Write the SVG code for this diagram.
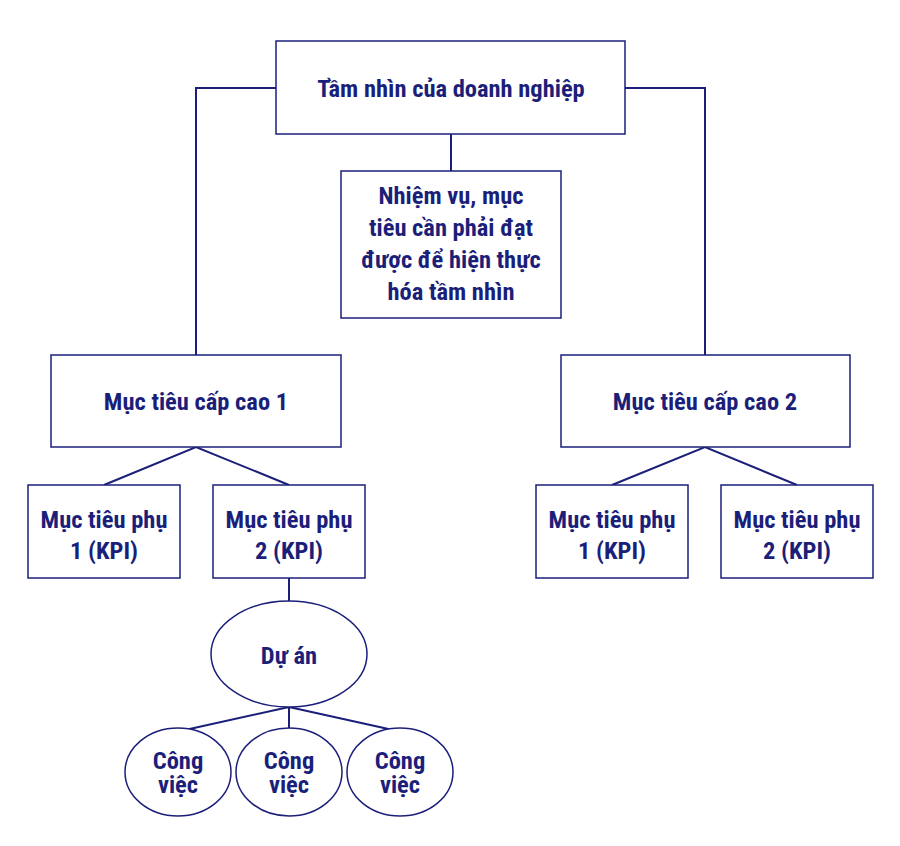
<svg xmlns="http://www.w3.org/2000/svg" width="900" height="846" viewBox="0 0 900 846">
<style>
rect,ellipse{fill:#fff;stroke:#1b1f7a;stroke-width:1.5}
.c{fill:none;stroke:#1b1f7a;stroke-width:2}
text{font-family:"Roboto Condensed","Roboto","Liberation Sans",sans-serif;font-weight:bold;font-size:24.5px;fill:#1b1f7a;text-anchor:middle}
</style>
<rect width="900" height="846" style="fill:#fff;stroke:none"/>
<g id="connectors">
<path class="c" d="M276,88H196V355M625,88H705V355M451,134V171M104,485L196,447L289,485M612,485L705,447L797,485M289,578V601M289,707L185,730M289,707V728M289,707L393,730"/>
</g>
<g id="vision"><rect x="276" y="41" width="349" height="93"/><text x="451" y="97">Tầm nhìn của doanh nghiệp</text></g>
<g id="mission"><rect x="341" y="171" width="220" height="147"/>
<text x="451" y="204">Nhiệm vụ, mục</text><text x="451" y="236">tiêu cần phải đạt</text><text x="451" y="268">được để hiện thực</text><text x="451" y="300">hóa tầm nhìn</text></g>
<g id="high1"><rect x="51" y="355" width="290" height="92"/><text x="196" y="410">Mục tiêu cấp cao 1</text></g>
<g id="high2"><rect x="561" y="355" width="289" height="92"/><text x="705" y="410">Mục tiêu cấp cao 2</text></g>
<g id="sub11"><rect x="28" y="485" width="152" height="93"/><text x="104" y="528">Mục tiêu phụ</text><text x="104" y="559">1 (KPI)</text></g>
<g id="sub12"><rect x="213" y="485" width="152" height="93"/><text x="289" y="528">Mục tiêu phụ</text><text x="289" y="559">2 (KPI)</text></g>
<g id="sub21"><rect x="536" y="485" width="152" height="93"/><text x="612" y="528">Mục tiêu phụ</text><text x="612" y="559">1 (KPI)</text></g>
<g id="sub22"><rect x="721" y="485" width="152" height="93"/><text x="797" y="528">Mục tiêu phụ</text><text x="797" y="559">2 (KPI)</text></g>
<g id="project"><ellipse cx="289" cy="654" rx="78" ry="53"/><text x="289" y="664">Dự án</text></g>
<g id="task1"><ellipse cx="178" cy="772" rx="53" ry="44"/><text x="178" y="769">Công</text><text x="178" y="793">việc</text></g>
<g id="task2"><ellipse cx="289" cy="772" rx="53" ry="44"/><text x="289" y="769">Công</text><text x="289" y="793">việc</text></g>
<g id="task3"><ellipse cx="400" cy="772" rx="53" ry="44"/><text x="400" y="769">Công</text><text x="400" y="793">việc</text></g>
</svg>
